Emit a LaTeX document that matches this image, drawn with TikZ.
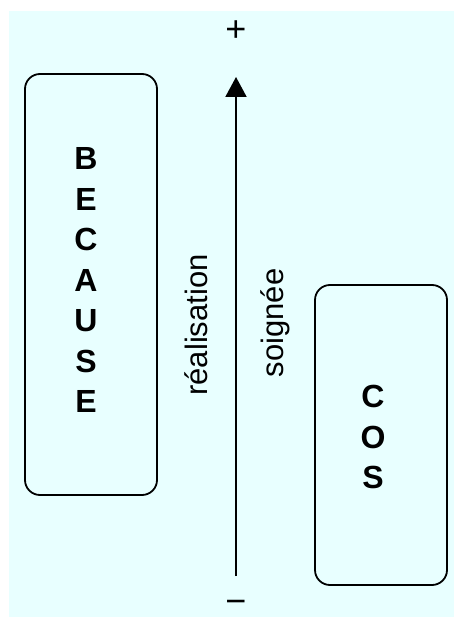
\documentclass[tikz,border=0pt]{standalone}
\usepackage{fontspec}
\setmainfont{Liberation Sans}
\usetikzlibrary{arrows.meta}
\definecolor{bgcyan}{RGB}{232,255,255}
\begin{document}
\begin{tikzpicture}[x=1pt,y=-1pt,
  box/.style={draw=black,line width=1.8pt,rounded corners=15pt,inner sep=0pt},
  stack/.style={align=center,font=\fontsize{32}{40.5}\selectfont\bfseries,inner sep=0pt},
  vlabel/.style={rotate=90,font=\fontsize{31}{36}\selectfont,inner sep=0pt,anchor=base},
  sign/.style={font=\fontsize{36}{40}\selectfont,inner sep=0pt}]
\useasboundingbox (0,0) rectangle (454,617);
\fill[white] (0,0) rectangle (454,617);
\fill[bgcyan] (9,11) rectangle (454,617);
\node[box,minimum width=132pt,minimum height=421pt] (because) at (91,284.5) {};
\node[stack] (becausetxt) at (86,280) {B\\E\\C\\A\\U\\S\\E};
\node[box,minimum width=132pt,minimum height=300pt] (cos) at (381,435) {};
\node[stack] (costxt) at (373,437) {C\\O\\S};
\coordinate (low) at (236,576);
\coordinate (high) at (236,77);
\draw[line width=2pt,-{Triangle[length=20pt,width=21pt]}] (low) -- (high);
\node[vlabel] (real) at (207,325) {réalisation};
\node[vlabel] (soig) at (283,323) {soignée};
\node[sign] (plus) at (236,31) {+};
\node[sign] (minus) at (236,607) {−};
\end{tikzpicture}
\end{document}
